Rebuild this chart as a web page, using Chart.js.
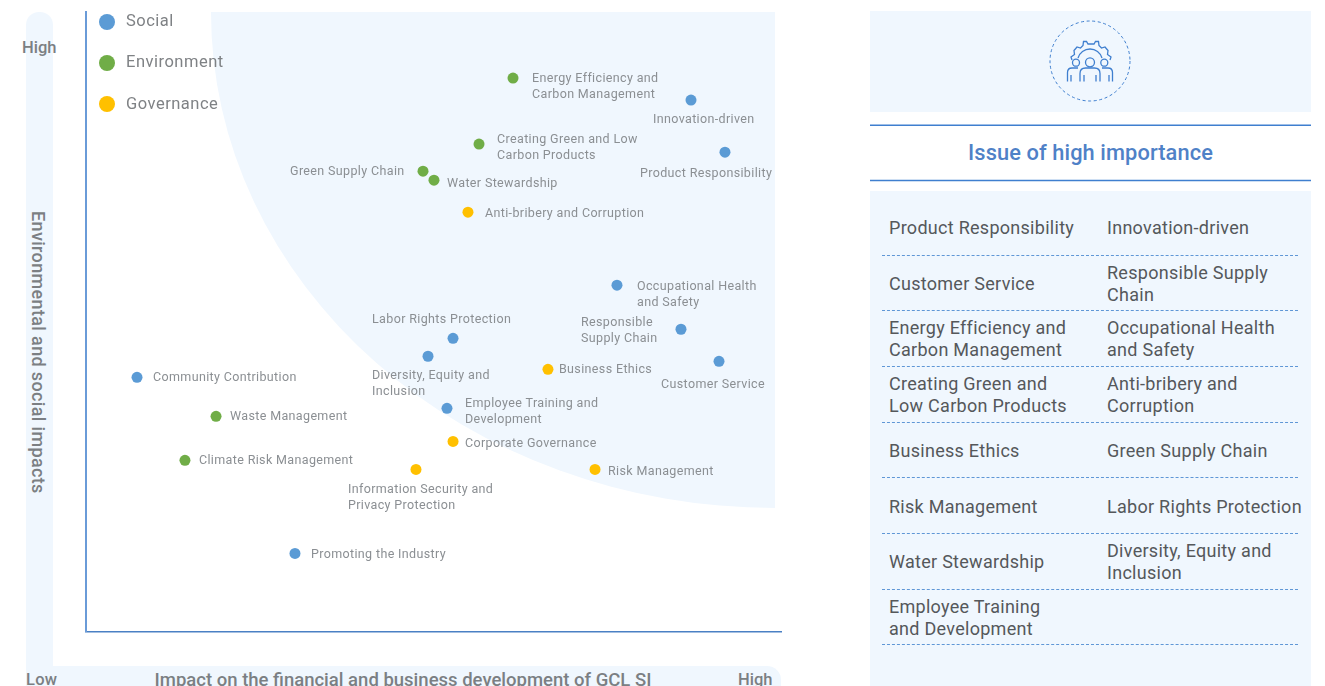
<!DOCTYPE html>
<html>
<head>
<meta charset="utf-8">
<script src="https://cdn.jsdelivr.net/npm/chart.js@4"></script>
<style>
html,body{margin:0;padding:0;width:1325px;height:686px;overflow:hidden;background:#fff;font-family:Roboto,sans-serif}
.abs{position:absolute}
.pale{background:#f0f7fe}
.axisText{color:#7b7f83;font-weight:500;font-size:16.5px;line-height:20px;white-space:nowrap}
.legendDot{width:16px;height:16px;border-radius:8px}
.legendText{color:#7f8285;font-size:16.5px;line-height:20px;letter-spacing:.5px}
.row{position:absolute;left:882px;width:416px;height:55px;border-bottom:1px dashed #5f97d6;display:flex;align-items:center;color:#55585b;font-size:18px;line-height:22px;letter-spacing:.28px}
.row div{position:absolute;white-space:pre;transform:translateY(.5px)}
</style>
</head>
<body>
<div class="abs pale" style="left:26px;top:12px;width:27px;height:680px;border-radius:13px 13px 0 0"></div>
<div class="abs pale" style="left:26px;top:666px;width:755px;height:30px;border-radius:0 14px 0 0"></div>
<div class="abs axisText" style="left:22px;top:38px">High</div>
<div class="abs axisText" style="left:26px;top:670px;letter-spacing:.3px">Low</div>
<div class="abs axisText" style="left:738px;top:670px">High</div>
<div class="abs axisText" style="left:154px;top:670px;width:498px;text-align:center;font-size:18.5px">Impact on the financial and business development of GCL SI</div>
<div class="abs axisText" style="left:28px;top:211px;height:281px;writing-mode:vertical-rl;text-align:center;font-size:18px;letter-spacing:.35px">Environmental and social impacts</div>

<canvas id="chart" class="abs" width="800" height="686" style="left:0;top:0"></canvas>
<div id="legend"></div>

<div class="abs pale" style="left:870px;top:11px;width:441px;height:101px"></div>
<svg class="abs" style="left:1040px;top:11px" width="100" height="100" viewBox="1040 11 100 100" fill="none" stroke="#3f7fcf" stroke-width="1.3">
  <circle cx="1090" cy="61" r="40" stroke-width="1" stroke-dasharray="3 2.6"/>
  <path d="M1072 60l-1-3 3.500-2.500-.5-4 3-3.500 3.500 1 2.500-2.500.5-4h3l1.500 2.500h6l1.500-2.500h3l.5 4 2.500 2.500 3.500-1 3 3.500-.5 4 3.500 2.500-1 3"/>
  <path d="M1078 58a12.500 12.500 0 0 1 24 0"/>
  <circle cx="1076" cy="62.700" r="3.500"/>
  <circle cx="1090" cy="62.300" r="4.500"/>
  <circle cx="1104.300" cy="62.700" r="3.500"/>
  <path d="M1080 81.500v-8q0-5.500 5.500-5.500h9q5.500 0 5.500 5.500v8M1084 75v6.500M1096 75v6.500"/>
  <path d="M1067.500 81.500v-9q0-4.500 4.500-4.500h6M1071 75v6.500M1112.500 81.500v-9q0-4.500-4.500-4.500h-6M1109 75v6.500"/>
</svg>
<svg class="abs" style="left:870px;top:120px" width="441" height="66" stroke="#3f7fcf" stroke-width="1.4">
  <line x1="0" y1="5.300" x2="441" y2="5.300"/>
  <line x1="0" y1="60.500" x2="441" y2="60.500"/>
</svg>
<div class="abs" style="left:870px;top:126px;width:441px;height:55px;text-align:center;line-height:54px;color:#4f81c7;font-weight:500;font-size:21.8px;letter-spacing:.1px">Issue of high importance</div>
<div class="abs pale" style="left:870px;top:191px;width:441px;height:495px"></div>
<div id="rows"></div>

<script>
// quadrant 0..100 on both axes
const seriesNames=['Social','Environment','Governance'];
const seriesColors=['#5b9bd5','#70ad47','#ffc000'];

const socialLabels=['Innovation-driven','Product Responsibility','Occupational Health\nand Safety','Responsible\nSupply Chain','Customer Service','Labor Rights Protection','Diversity, Equity and\nInclusion','Employee Training and\nDevelopment','Community Contribution','Promoting the Industry'];
const socialX=[87.05,91.94,76.40,85.61,91.08,52.81,49.21,51.94,7.34,30.07];
const socialY=[85.78,77.38,55.90,48.79,43.62,47.33,44.43,36.03,41.03,12.60];

const envLabels=['Energy Efficiency and\nCarbon Management','Creating Green and Low\nCarbon Products','Green Supply Chain','Water Stewardship','Waste Management','Climate Risk Management'];
const envX=[61.44,56.55,48.49,50.07,18.71,14.24];
const envY=[89.34,78.68,74.31,72.86,34.73,27.63];

const govLabels=['Anti-bribery and Corruption','Business Ethics','Corporate Governance','Risk Management','Information Security and\nPrivacy Protection'];
const govX=[54.96,66.47,52.81,73.24,47.48];
const govY=[67.69,42.33,30.69,26.17,26.17];

const issueRows=[
  ['Product Responsibility','Innovation-driven'],
  ['Customer Service','Responsible Supply\nChain'],
  ['Energy Efficiency and\nCarbon Management','Occupational Health\nand Safety'],
  ['Creating Green and\nLow Carbon Products','Anti-bribery and\nCorruption'],
  ['Business Ethics','Green Supply Chain'],
  ['Risk Management','Labor Rights Protection'],
  ['Water Stewardship','Diversity, Equity and\nInclusion'],
  ['Employee Training\nand Development','']
];

// where each label sits relative to its point, px
const socialOffsets=[[-38,18],[-85,20],[20,0],[-100,-8],[-58,22],[-81,-20],[-56,18],[18,-6],[16,-1],[16,0]];
const envOffsets=[[19,-1],[18,-6],[-133,-1],[13,2],[14,-1],[14,-1]];
const govOffsets=[[17,0],[11,-1],[12,1],[13,1],[-68,19]];

const toPoints=(xs,ys)=>xs.map((x,i)=>({x,y:ys[i]}));
const allLabels=[socialLabels,envLabels,govLabels];
const allOffsets=[socialOffsets,envOffsets,govOffsets];

// pale high-importance quarter ellipse, top right
const regionPlugin={
  id:'region',
  beforeDatasetsDraw(chart){
    const c=chart.ctx;
    c.save();
    c.fillStyle='#f0f7fe';
    c.beginPath();
    c.moveTo(775,12);
    c.ellipse(775,12,564,496,0,Math.PI/2,Math.PI);
    c.closePath();
    c.fill();
    c.restore();
  }
};

const pointLabels={
  id:'pointLabels',
  afterDatasetsDraw(chart){
    const c=chart.ctx;
    c.save();
    c.font='12.5px Roboto';
    c.fillStyle='#8b8f93';
    c.textBaseline='middle';
    if('letterSpacing' in c) c.letterSpacing='0.36px';
    chart.data.datasets.forEach((ds,d)=>{
      chart.getDatasetMeta(d).data.forEach((pt,i)=>{
        const off=allOffsets[d][i];
        allLabels[d][i].split('\n').forEach((line,n)=>{
          c.fillText(line,pt.x+off[0],pt.y+off[1]+1.5+n*16);
        });
      });
    });
    c.restore();
  }
};

new Chart(document.getElementById('chart'),{
  type:'scatter',
  data:{datasets:[
    {label:seriesNames[0],data:toPoints(socialX,socialY),backgroundColor:seriesColors[0]},
    {label:seriesNames[1],data:toPoints(envX,envY),backgroundColor:seriesColors[1]},
    {label:seriesNames[2],data:toPoints(govX,govY),backgroundColor:seriesColors[2]}
  ]},
  options:{
    responsive:false,
    animation:false,
    layout:{padding:{left:86,top:12,right:19,bottom:54.5}},
    elements:{point:{radius:5.5,borderWidth:0,hoverRadius:5.5}},
    plugins:{legend:{display:false},tooltip:{enabled:false}},
    scales:{
      x:{min:0,max:100,grid:{display:false,drawTicks:false},ticks:{display:false},border:{color:'#4a80c4',width:1.5}},
      y:{min:0,max:100,grid:{display:false,drawTicks:false},ticks:{display:false},border:{color:'#6a9bd8',width:2}}
    }
  },
  plugins:[regionPlugin,pointLabels]
});

// legend
const legendBox=document.getElementById('legend');
const legendDotTops=[14,55,96];
const legendTextTops=[11,52,94];
seriesNames.forEach((name,i)=>{
  legendBox.insertAdjacentHTML('beforeend',
    `<div class="abs legendDot" style="left:99px;top:${legendDotTops[i]}px;background:${seriesColors[i]}"></div>`+
    `<div class="abs legendText" style="left:126px;top:${legendTextTops[i]}px">${name}</div>`);
});

// issue table
const rowsBox=document.getElementById('rows');
issueRows.forEach((r,i)=>{
  rowsBox.insertAdjacentHTML('beforeend',
    `<div class="row" style="top:${199.5+i*55.7}px"><div style="left:7px">${r[0]}</div><div style="left:225px">${r[1]}</div></div>`);
});
</script>
</body>
</html>
